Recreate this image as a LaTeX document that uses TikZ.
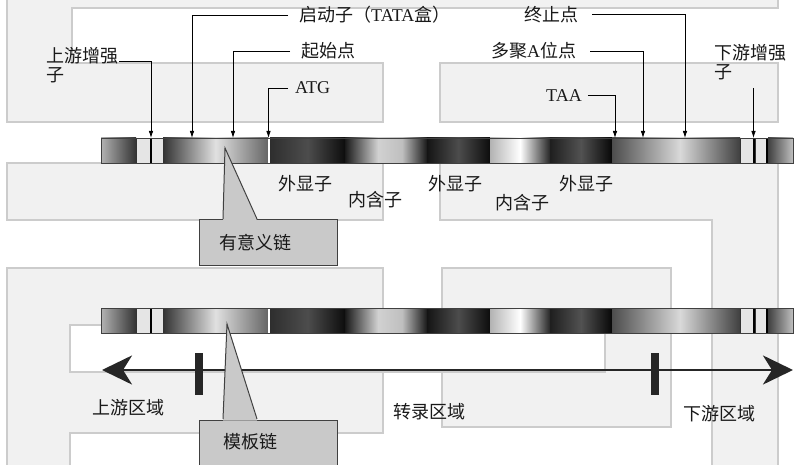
\documentclass[tikz,border=0pt]{standalone}
\usepackage{fontspec}
\setmainfont{Liberation Serif}
\newfontfamily\cjk{Noto Sans CJK SC}
\usetikzlibrary{arrows.meta}
\definecolor{panelfill}{gray}{0.945}
\definecolor{panelline}{gray}{0.80}
\definecolor{boxfill}{gray}{0.79}
\tikzset{
  panel/.style={fill=panelfill, draw=panelline, line width=1.2pt},
  lbl/.style={font=\fontsize{18}{20}\selectfont\cjk, inner sep=0pt, text=black!90},
  callout/.style={draw=black, line width=0.8pt, -{Latex[length=7pt,width=4.5pt]}},
  calbox/.style={fill=boxfill, draw=black!75, line width=1pt, minimum width=138pt, minimum height=45pt, inner sep=0pt},
  pointer/.style={fill=boxfill, draw=none},
  pointeredge/.style={draw=black!75, line width=1pt},
  bar/.style={fill=black!85, draw=none, minimum width=8pt, minimum height=42pt, inner sep=0pt},
  lightbox/.style={fill=black!10, draw=black!80, line width=0.6pt},
  strandedge/.style={draw=black!75, line width=0.9pt},
  bigarrow/.style={draw=black!85, line width=2.8pt, {Stealth[length=30pt,width=29pt,inset=9pt]}-{Stealth[length=30pt,width=29pt,inset=9pt]}},
}
\newcommand\mystrand[1]{%
  \shade[left color=black!30, right color=black!80] (101,#1) rectangle (136,{#1+25});
  \path[lightbox] (136,#1) rectangle (150,{#1+25});
  \path[lightbox] (151.5,#1) rectangle (163,{#1+25});
  \fill[black] (150,#1) rectangle (151.5,{#1+25});
  \shade[left color=black!80, right color=black!60, middle color=black!12] (163,#1) rectangle (268,{#1+25});
  \fill[white] (268,#1) rectangle (270,{#1+25});
  \shade[left color=black!82, right color=black!95, middle color=black!70] (270,#1) rectangle (345,{#1+25});
  \shade[left color=black!90, right color=black!18] (345,#1) rectangle (378,{#1+25});
  \shade[left color=black!18, right color=black!25] (378,#1) rectangle (402,{#1+25});
  \shade[left color=black!25, right color=black!90] (402,#1) rectangle (427,{#1+25});
  \shade[left color=black!92, right color=black!95, middle color=black!70] (427,#1) rectangle (490,{#1+25});
  \shade[left color=black!30, right color=black!85, middle color=white] (490,#1) rectangle (550,{#1+25});
  \shade[left color=black!88, right color=black!97, middle color=black!68] (550,#1) rectangle (612,{#1+25});
  \shade[left color=black!70, right color=black!15] (612,#1) rectangle (680,{#1+25});
  \shade[left color=black!15, right color=black!75] (680,#1) rectangle (740,{#1+25});
  \path[lightbox] (740,#1) rectangle (753,{#1+25});
  \path[lightbox] (755,#1) rectangle (766,{#1+25});
  \fill[black] (753,#1) rectangle (755,{#1+25});
  \fill[black] (766,#1) rectangle (768,{#1+25});
  \shade[left color=black!75, right color=black!25] (768,#1) rectangle (793,{#1+25});
  \path[strandedge] (101,#1) rectangle (793,{#1+25});
}
\begin{document}
\begin{tikzpicture}[x=1pt, y=-1pt]
  \useasboundingbox (0,0) rectangle (795,465);
  \clip (0,0) rectangle (795,465);
  \fill[white] (0,0) rectangle (795,465);

  % background panels
  \path[panel] (7,-5) -- (778,-5) -- (778,8) -- (72,8) -- (72,63) -- (383,63) -- (383,122) -- (7,122) -- cycle;
  \path[panel] (440,63) rectangle (778,122);
  \path[panel] (7,163) rectangle (383,220);
  \path[panel] (440,163) -- (778,163) -- (778,470) -- (712,470) -- (712,220) -- (440,220) -- cycle;
  \path[panel] (7,268) -- (383,268) -- (383,433) -- (70,433) -- (70,470) -- (7,470) -- cycle;
  \path[panel] (442,268) rectangle (671,427);
  \path[fill=white, draw=panelline, line width=1.2pt] (70,325) rectangle (605,372);

  % strands
  \mystrand{138}
  \mystrand{308}

  % target points on the upper strand
  \coordinate (t1) at (151,138);
  \coordinate (t2) at (192,138);
  \coordinate (t3) at (233,138);
  \coordinate (t4) at (268.5,138);
  \coordinate (t5) at (685,138);
  \coordinate (t6) at (643,138);
  \coordinate (t7) at (615,138);
  \coordinate (t8) at (753.5,138);
  \coordinate (ds) at (753.5,88);

  % top labels
  \node[lbl, anchor=west] (ue) at (46,56) {上游增强};
  \node[lbl, anchor=west] (ue2) at (46,75) {子};
  \node[lbl, anchor=west] (st) at (299,15) {启动子（{\rmfamily TATA}盒）};
  \node[lbl, anchor=west] (qs) at (301,51) {起始点};
  \node[lbl, anchor=west] (atg) at (295,88) {\rmfamily ATG};
  \node[lbl, anchor=west] (zz) at (524,15) {终止点};
  \node[lbl, anchor=west] (pa) at (491,51) {多聚{\rmfamily A}位点};
  \node[lbl, anchor=west] (taa) at (546,96) {\rmfamily TAA};
  \node[lbl, anchor=west] (de) at (714,53) {下游增强};
  \node[lbl, anchor=west] (de2) at (714,72) {子};

  % callouts
  \draw[callout] ([xshift=1pt,yshift=-5pt]ue.east) -| (t1);
  \draw[callout] ([xshift=-11pt]st.west) -| (t2);
  \draw[callout] ([xshift=-11pt]qs.west) -| (t3);
  \draw[callout] ([xshift=-7pt]atg.west) -| (t4);
  \draw[callout] ([xshift=14pt,yshift=1pt]zz.east) -| (t5);
  \draw[callout] ([xshift=14pt]pa.east) -| (t6);
  \draw[callout] ([xshift=6pt,yshift=1pt]taa.east) -| (t7);
  \draw[callout] (ds) -- (t8);

  % exon / intron labels
  \node[lbl] (ex1) at (305,184) {外显子};
  \node[lbl] (in1) at (375,200) {内含子};
  \node[lbl] (ex2) at (455,184) {外显子};
  \node[lbl] (in2) at (522,203) {内含子};
  \node[lbl] (ex3) at (586,184) {外显子};

  % sense strand callout
  \node[calbox] (yb) at (268,242.5) {};
  \coordinate (ytip) at (225,148);
  \fill[pointer] (ytip) -- ([xshift=-45pt,yshift=-1pt]yb.north) -- ([xshift=-11pt,yshift=-1pt]yb.north) -- cycle;
  \draw[pointeredge] ([xshift=-45pt,yshift=0.5pt]yb.north) -- (ytip) -- ([xshift=-11pt,yshift=0.5pt]yb.north);
  \node[lbl] (yt) at (255,243) {有意义链};

  % regions arrow
  \coordinate (la) at (102,370);
  \coordinate (ra) at (793,370);
  \draw[bigarrow] (la) -- (ra);
  \node[bar] (bl) at (199,374) {};
  \node[bar] (br) at (655,373.5) {};
  \node[lbl] (up) at (128,408) {上游区域};
  \node[lbl] (tr) at (429,412) {转录区域};
  \node[lbl] (dn) at (719,414) {下游区域};

  % template strand callout
  \node[calbox, minimum height=50pt] (mb) at (268,445) {};
  \coordinate (mtip) at (227,324);
  \fill[pointer] (mtip) -- ([xshift=-45pt,yshift=-1pt]mb.north) -- ([xshift=-11pt,yshift=-1pt]mb.north) -- cycle;
  \draw[pointeredge] ([xshift=-45pt,yshift=0.5pt]mb.north) -- (mtip) -- ([xshift=-11pt,yshift=0.5pt]mb.north);
  \node[lbl] (mt) at (250,442) {模板链};
\end{tikzpicture}
\end{document}
